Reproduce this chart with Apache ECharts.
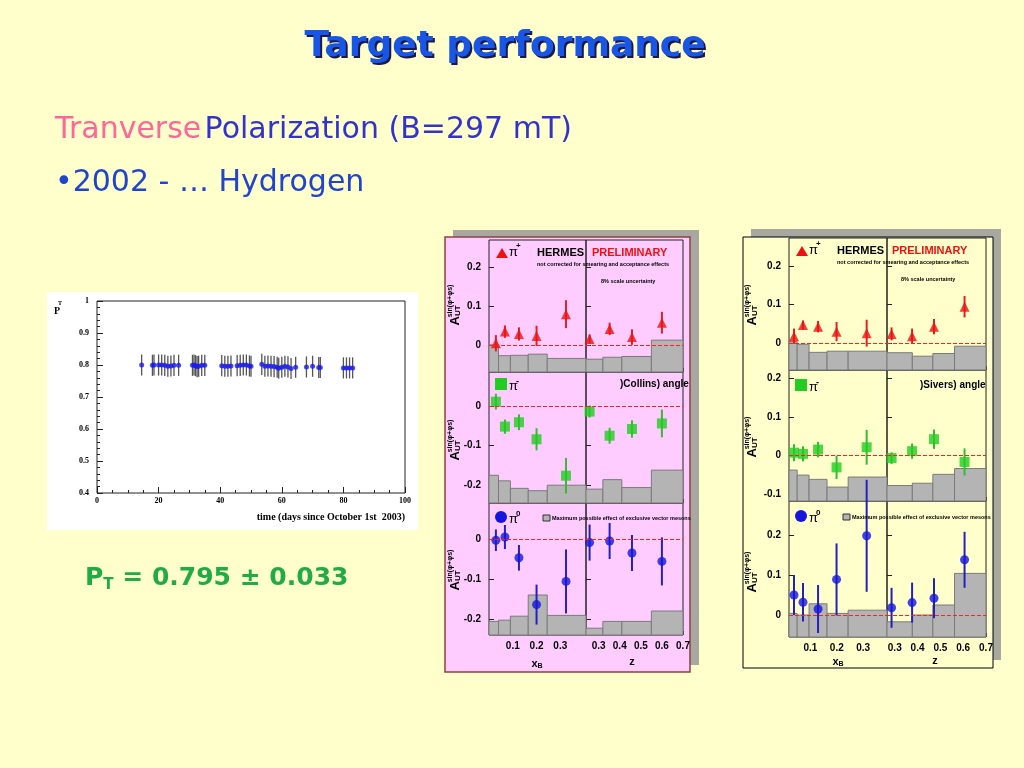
<!DOCTYPE html>
<html><head><meta charset="utf-8">
<script src="https://cdn.jsdelivr.net/npm/echarts@6/dist/echarts.min.js"></script>
<style>html,body{margin:0;padding:0;background:#ffffcc}#c{width:1024px;height:768px}</style>
</head><body><div id="c"></div>
<script>
// ---- Polarization vs time ----
const PT_DAYS = [14.5,18,18.5,20,21,22,23,24,25,26.5,31,31.5,32,32.5,33,34,35,40.5,41.5,42.5,43.5,45.5,46.5,47.5,48.5,49.5,50,53.5,54.5,55.5,56.5,57.5,58.5,59,60,61,62,63,64.5,68,70,72,72.5,80,81,82,83];
const PT_VALS = [0.800,0.799,0.800,0.800,0.800,0.799,0.796,0.797,0.799,0.799,0.799,0.800,0.798,0.795,0.796,0.799,0.799,0.798,0.796,0.796,0.797,0.798,0.799,0.800,0.800,0.797,0.796,0.802,0.796,0.797,0.796,0.795,0.793,0.790,0.793,0.796,0.794,0.789,0.793,0.794,0.796,0.792,0.792,0.791,0.791,0.791,0.791];
const PT_ERR = 0.033;
// ---- Figure 1 (Collins) ----
const F1_XB = [0.029,0.067,0.126,0.2,0.324];
const F1_Z = [0.257,0.352,0.458,0.6];
const F1_XB_BINS = [0,0.04,0.09,0.165,0.245,0.408];
const F1_Z_BINS = [0.24,0.32,0.41,0.55,0.7];
const F1_PIP_XB = [0.004,0.034,0.028,0.023,0.079], F1_PIP_XB_E = [0.021,0.016,0.017,0.026,0.036];
const F1_PIP_Z = [0.015,0.041,0.02,0.057], F1_PIP_Z_E = [0.012,0.016,0.02,0.028];
const F1_PIM_XB = [0.011,-0.052,-0.041,-0.084,-0.176], F1_PIM_XB_E = [0.02,0.018,0.02,0.028,0.045];
const F1_PIM_Z = [-0.014,-0.075,-0.058,-0.044], F1_PIM_Z_E = [0.015,0.02,0.022,0.035];
const F1_PI0_XB = [-0.003,0.005,-0.047,-0.164,-0.106], F1_PI0_XB_E = [0.027,0.03,0.032,0.05,0.08];
const F1_PI0_Z = [-0.009,-0.005,-0.035,-0.056], F1_PI0_Z_E = [0.045,0.045,0.045,0.06];
const F1_H_PIP_XB = [0,-0.028,-0.027,-0.024,-0.035], F1_H_PIP_Z = [-0.037,-0.032,-0.03,0.012];
const F1_H_PIM_XB = [-0.175,-0.189,-0.208,-0.214,-0.2], F1_H_PIM_Z = [-0.21,-0.186,-0.206,-0.162];
const F1_H_PI0_XB = [-0.206,-0.203,-0.193,-0.14,-0.191], F1_H_PI0_Z = [-0.223,-0.206,-0.206,-0.18];
// ---- Figure 2 (Sivers) ----
const F2_XB = [0.038,0.072,0.129,0.199,0.313];
const F2_Z = [0.286,0.376,0.472,0.606];
const F2_XB_BINS = [0.019,0.05,0.095,0.163,0.243,0.39];
const F2_Z_BINS = [0.266,0.377,0.467,0.562,0.7];
const F2_PIP_XB = [0.017,0.046,0.042,0.029,0.025], F2_PIP_XB_E = [0.02,0.012,0.015,0.025,0.035];
const F2_PIP_Z = [0.023,0.017,0.042,0.094], F2_PIP_Z_E = [0.017,0.02,0.02,0.028];
const F2_PIM_XB = [0.007,0.004,0.015,-0.031,0.021], F2_PIM_XB_E = [0.022,0.02,0.02,0.03,0.045];
const F2_PIM_Z = [-0.007,0.011,0.042,-0.017], F2_PIM_Z_E = [0.015,0.02,0.025,0.035];
const F2_PI0_XB = [0.05,0.032,0.015,0.089,0.198], F2_PI0_XB_E = [0.05,0.048,0.06,0.09,0.14];
const F2_PI0_Z = [0.018,0.031,0.042,0.138], F2_PI0_Z_E = [0.05,0.05,0.05,0.07];
const F2_H_PIP_XB = [0.003,-0.004,-0.025,-0.022,-0.022], F2_H_PIP_Z = [-0.026,-0.035,-0.028,-0.009];
const F2_H_PIM_XB = [-0.038,-0.051,-0.062,-0.082,-0.056], F2_H_PIM_Z = [-0.078,-0.072,-0.049,-0.034];
const F2_H_PI0_XB = [0.004,0,0.028,0.004,0.012], F2_H_PI0_Z = [-0.017,0,0.025,0.104];
const XB_TICKS = [0.1,0.2,0.3], Z_TICKS = [0.3,0.4,0.5,0.6,0.7], A_TICKS = [-0.2,-0.1,0,0.1,0.2];

const grids=[], xAxes=[], yAxes=[], series=[];
function addGrid(g){grids.push(g);return grids.length-1;}
function errSeries(idx,pts,color,w){
  series.push({type:'custom',xAxisIndex:idx,yAxisIndex:idx,silent:true,z:3,
    data:pts,renderItem:(p,api)=>{const a=api.coord([api.value(0),api.value(1)]),b=api.coord([api.value(0),api.value(2)]);
      return {type:'line',shape:{x1:a[0],y1:a[1],x2:b[0],y2:b[1]},style:{stroke:color,lineWidth:w}};}});
}
function panel(o){
  const idx=addGrid({left:o.l,top:o.t,width:o.w,height:o.h,show:true,borderColor:'#222',borderWidth:1,backgroundColor:'transparent'});
  const inR=v=>v>=o.xmin-1e-9&&v<=o.xmax+1e-9, inY=v=>v>=o.ymin&&v<=o.ymax;
  xAxes.push({gridIndex:idx,type:'value',min:o.xmin,max:o.xmax,axisLine:{show:false,onZero:false},splitLine:{show:false},
    axisTick:{show:true,inside:true,length:4,customValues:o.xt.filter(inR),lineStyle:{color:'#222'}},
    axisLabel:{show:o.showX,customValues:o.xt.filter(inR),fontFamily:'Liberation Sans',fontWeight:'bold',fontSize:10,color:'#000',margin:6}});
  yAxes.push({gridIndex:idx,type:'value',min:o.ymin,max:o.ymax,axisLine:{show:false,onZero:false},splitLine:{show:false},
    axisTick:{show:true,inside:true,length:5,customValues:A_TICKS.filter(inY),lineStyle:{color:'#222'}},
    axisLabel:{show:o.showY,customValues:A_TICKS.filter(inY),fontFamily:'Liberation Sans',fontWeight:'bold',fontSize:10,color:'#000',margin:8,formatter:v=>v==0?'0':String(+v.toFixed(1))}});
  const hd=o.hist.map((v,i)=>[o.bins[i],o.bins[i+1],v]);
  series.push({type:'custom',xAxisIndex:idx,yAxisIndex:idx,silent:true,z:1,data:hd,
    renderItem:(p,api)=>{const a=api.coord([api.value(0),api.value(2)]),b=api.coord([api.value(1),o.ymin]);
      return {type:'rect',shape:{x:a[0],y:a[1],width:b[0]-a[0],height:b[1]-a[1]},style:{fill:'#b4b4b4',stroke:'#7a7a7a',lineWidth:1}};}});
  errSeries(idx,o.x.map((x,i)=>[x,o.y[i]-o.e[i],o.y[i]+o.e[i]]),o.ecol,2);
  series.push({type:'scatter',xAxisIndex:idx,yAxisIndex:idx,silent:true,z:4,symbol:o.sym,symbolSize:o.ss,
    itemStyle:{color:o.col},data:o.x.map((x,i)=>[x,o.y[i]]),
    markLine:{silent:true,symbol:'none',label:{show:false},lineStyle:{color:'#ff2020',type:'dashed',width:1,opacity:1},data:[{yAxis:0}]}});
}
function figure(F){
  const rows=[
    {t:F.rt[0],h:F.rt[1]-F.rt[0],yr:F.yr[0],sym:'triangle',ss:10,col:'#ee1111',ecol:'#dd2222',d:F.d[0]},
    {t:F.rt[1],h:F.rt[2]-F.rt[1],yr:F.yr[1],sym:'rect',ss:10,col:'#22cc22',ecol:'#33bb33',d:F.d[1]},
    {t:F.rt[2],h:F.rt[3]-F.rt[2],yr:F.yr[2],sym:'circle',ss:9,col:'#1515dd',ecol:'#2222bb',d:F.d[2]}];
  rows.forEach((r,ri)=>{
    panel({l:F.cx[0],t:r.t,w:F.cx[1]-F.cx[0],h:r.h,xmin:F.xbr[0],xmax:F.xbr[1],ymin:r.yr[0],ymax:r.yr[1],xt:XB_TICKS,showX:ri==2,showY:true,
      bins:F.xbBins,hist:r.d[4],x:F.xb,y:r.d[0],e:r.d[1],sym:r.sym,ss:r.ss,col:r.col,ecol:r.ecol});
    panel({l:F.cx[1],t:r.t,w:F.cx[2]-F.cx[1],h:r.h,xmin:F.zr[0],xmax:F.zr[1],ymin:r.yr[0],ymax:r.yr[1],xt:Z_TICKS,showX:ri==2,showY:false,
      bins:F.zBins,hist:r.d[5],x:F.z,y:r.d[2],e:r.d[3],sym:r.sym,ss:r.ss,col:r.col,ecol:r.ecol});
  });
}
figure({cx:[489,586,683],rt:[240,372,503,635],yr:[[-0.07,0.27],[-0.245,0.086],[-0.24,0.09]],xbr:[0,0.408],zr:[0.24,0.7],
  xb:F1_XB,z:F1_Z,xbBins:F1_XB_BINS,zBins:F1_Z_BINS,
  d:[[F1_PIP_XB,F1_PIP_XB_E,F1_PIP_Z,F1_PIP_Z_E,F1_H_PIP_XB,F1_H_PIP_Z],
     [F1_PIM_XB,F1_PIM_XB_E,F1_PIM_Z,F1_PIM_Z_E,F1_H_PIM_XB,F1_H_PIM_Z],
     [F1_PI0_XB,F1_PI0_XB_E,F1_PI0_Z,F1_PI0_Z_E,F1_H_PI0_XB,F1_H_PI0_Z]]});
figure({cx:[789,887,986],rt:[238,370,501,637],yr:[[-0.071,0.273],[-0.118,0.221],[-0.055,0.285]],xbr:[0.019,0.39],zr:[0.266,0.7],
  xb:F2_XB,z:F2_Z,xbBins:F2_XB_BINS,zBins:F2_Z_BINS,
  d:[[F2_PIP_XB,F2_PIP_XB_E,F2_PIP_Z,F2_PIP_Z_E,F2_H_PIP_XB,F2_H_PIP_Z],
     [F2_PIM_XB,F2_PIM_XB_E,F2_PIM_Z,F2_PIM_Z_E,F2_H_PIM_XB,F2_H_PIM_Z],
     [F2_PI0_XB,F2_PI0_XB_E,F2_PI0_Z,F2_PI0_Z_E,F2_H_PI0_XB,F2_H_PI0_Z]]});

// polarization chart
const gi=addGrid({left:97,top:301,width:308,height:192,show:true,borderColor:'#222',borderWidth:1,backgroundColor:'transparent'});
const serif={fontFamily:'Liberation Serif',fontWeight:'bold',fontSize:8,color:'#000'};
xAxes.push({gridIndex:gi,type:'value',min:0,max:100,interval:20,axisLine:{show:false,onZero:false},splitLine:{show:false},
  axisTick:{inside:true,length:6,lineStyle:{color:'#222'}},minorTick:{show:true,splitNumber:4,length:3,lineStyle:{color:'#222'}},axisLabel:Object.assign({margin:4},serif)});
yAxes.push({gridIndex:gi,type:'value',min:0.4,max:1,interval:0.1,axisLine:{show:false,onZero:false},splitLine:{show:false},
  axisTick:{inside:true,length:6,lineStyle:{color:'#222'}},minorTick:{show:true,splitNumber:5,length:3,lineStyle:{color:'#222'}},
  axisLabel:Object.assign({margin:8,formatter:v=>v==1?'1':v.toFixed(1)},serif)});
errSeries(gi,PT_DAYS.map((d,i)=>[d,PT_VALS[i]-PT_ERR,PT_VALS[i]+PT_ERR]),'#555',1.3);
series.push({type:'scatter',xAxisIndex:gi,yAxisIndex:gi,silent:true,z:4,symbolSize:5,itemStyle:{color:'#1a1aee'},data:PT_DAYS.map((d,i)=>[d,PT_VALS[i]])});

const T=(x,y,text,st)=>({type:'text',x,y,z:50,style:Object.assign({text,fontFamily:'Liberation Sans',fill:'#000'},st)});
const yName=(x,y)=>({type:'text',x,y,rotation:Math.PI/2,z:50,style:{text:'{a|A}{u|UT}{s|sin(φ+φs)}',align:'center',verticalAlign:'middle',
  rich:{a:{fontSize:13,fontWeight:'bold',fontFamily:'Liberation Sans'},u:{fontSize:8,fontWeight:'bold',fontFamily:'Liberation Sans',padding:[6,0,0,0]},s:{fontSize:7,fontWeight:'bold',fontFamily:'Liberation Sans',padding:[0,0,10,-12]}}}});
const sm={fontSize:5.5,fontWeight:'bold'};
function figText(ox,oy,angle,base){
  return [
    {type:'polygon',z:50,shape:{points:[[ox+13,oy+8],[ox+7,oy+18],[ox+19,oy+18]]},style:{fill:'#ee1111'}},
    T(ox+20,oy+6,'π',{fontSize:13}),T(ox+27,oy+2,'+',{fontSize:8,fontWeight:'bold'}),
    T(ox+48,oy+7,'HERMES',{fontSize:11,fontWeight:'bold'}),T(ox+103,oy+7,'PRELIMINARY',{fontSize:11,fontWeight:'bold',fill:'#ee1111'}),
    T(ox+48,oy+21,'not corrected for smearing and acceptance effects',sm),T(ox+112,oy+38,'8% scale uncertainty',sm),
    {type:'rect',z:50,shape:{x:ox+6,y:oy+base[0]+1,width:12,height:12},style:{fill:'#22cc22'}},
    T(ox+20,oy+base[0]+3,'π',{fontSize:13}),T(ox+27,oy+base[0],'-',{fontSize:9,fontWeight:'bold'}),
    T(ox+131,oy+base[0]+2,angle,{fontSize:10,fontWeight:'bold'}),
    {type:'circle',z:50,shape:{cx:ox+12,cy:oy+base[1]+7,r:6},style:{fill:'#1515dd'}},
    T(ox+20,oy+base[1]+3,'π',{fontSize:13}),T(ox+27,oy+base[1],'0',{fontSize:8,fontWeight:'bold'}),
    {type:'rect',z:50,shape:{x:ox+54,y:oy+base[1]+5,width:7,height:6},style:{fill:'#b4b4b4',stroke:'#333',lineWidth:1}},
    T(ox+63,oy+base[1]+5,'Maximum possible effect of exclusive vector mesons',sm),
  ];
}
const graphic=[
  {type:'rect',z:-2,shape:{x:453,y:230,width:246,height:435},style:{fill:'#a8a8a0'}},
  {type:'rect',z:-1,shape:{x:445,y:237,width:245,height:435},style:{fill:'#ffccff',stroke:'#884444',lineWidth:1.5}},
  {type:'rect',z:-2,shape:{x:751,y:229,width:250,height:431},style:{fill:'#a8a8a0'}},
  {type:'rect',z:-1,shape:{x:743,y:237,width:250,height:431},style:{fill:'#ffffcc',stroke:'#000',lineWidth:1}},
  {type:'rect',z:-1,shape:{x:47,y:292,width:371,height:238},style:{fill:'#ffffff'}},
  T(507,49,'Target performance',{fontSize:36,fontWeight:'bold',fill:'#1a1a4a',align:'center',verticalAlign:'middle',fontFamily:'DejaVu Sans'}),
  T(505,47,'Target performance',{fontSize:36,fontWeight:'bold',fill:'#1a56e6',align:'center',verticalAlign:'middle',fontFamily:'DejaVu Sans'}),
  T(55,130,'{p|Tranverse} {b|Polarization (B=297 mT)}',{verticalAlign:'middle',rich:{p:{fontSize:30,fill:'#ff6699',fontFamily:'DejaVu Sans'},b:{fontSize:30,fill:'#3333cc',fontFamily:'DejaVu Sans'}}}),
  T(55,183,'•2002 - … Hydrogen',{fontSize:30,fill:'#2244cc',verticalAlign:'middle',fontFamily:'DejaVu Sans'}),
  T(85,578,'{a|P}{b|T}{a| = 0.795 ± 0.033}',{verticalAlign:'middle',rich:{a:{fontSize:25,fontWeight:'bold',fill:'#22aa44',fontFamily:'DejaVu Sans'},b:{fontSize:15,fontWeight:'bold',fill:'#22aa44',fontFamily:'DejaVu Sans',padding:[14,0,0,0]}}}),
  T(54,306,'P',{fontFamily:'Liberation Serif',fontWeight:'bold',fontSize:10,rotation:Math.PI/2}),
  T(58,300,'T',{fontFamily:'Liberation Serif',fontWeight:'bold',fontSize:6,rotation:Math.PI/2}),
  T(405,517,'time (days since October 1st  2003)',{fontFamily:'Liberation Serif',fontWeight:'bold',fontSize:10,align:'right',verticalAlign:'middle'}),
  yName(455,305),yName(455,440),yName(455,570),
  yName(752,305),yName(752,437),yName(752,572),
  T(537,657,'{a|x}{b|B}',{align:'center',rich:{a:{fontSize:11,fontWeight:'bold'},b:{fontSize:7,fontWeight:'bold',padding:[6,0,0,0]}}}),
  T(632,656,'z',{fontSize:11,fontWeight:'bold',align:'center'}),
  T(838,655,'{a|x}{b|B}',{align:'center',rich:{a:{fontSize:11,fontWeight:'bold'},b:{fontSize:7,fontWeight:'bold',padding:[6,0,0,0]}}}),
  T(935,655,'z',{fontSize:11,fontWeight:'bold',align:'center'}),
].concat(figText(489,240,')Collins) angle',[137,270]),figText(789,238,')Sivers) angle',[140,271]));

const chart=echarts.init(document.getElementById('c'),null,{renderer:'canvas'});
chart.setOption({backgroundColor:'#ffffcc',animation:false,grid:grids,xAxis:xAxes,yAxis:yAxes,series,graphic});
</script></body></html>
